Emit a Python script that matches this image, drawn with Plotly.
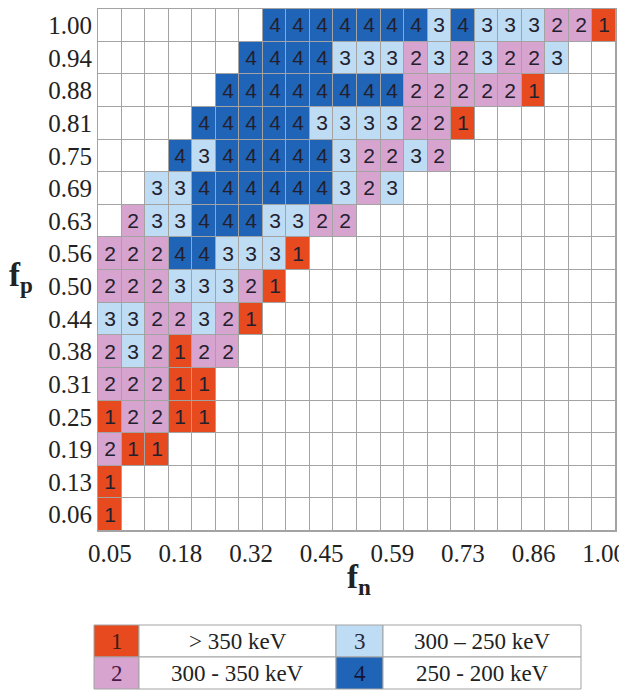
import plotly.graph_objects as go

# ---- data ----
n_cols = 22
n_rows = 16
fn_vals = [k / n_cols for k in range(1, n_cols + 1)]
fp_vals = [k / n_rows for k in range(1, n_rows + 1)]
fn_tick_labels = ["0.05", "0.18", "0.32", "0.45", "0.59", "0.73", "0.86", "1.00"]
fn_tick_index = [0, 3, 6, 9, 12, 15, 18, 21]
fp_tick_labels = ["0.06", "0.13", "0.19", "0.25", "0.31", "0.38", "0.44", "0.50",
                  "0.56", "0.63", "0.69", "0.75", "0.81", "0.88", "0.94", "1.00"]

# class per cell, rows from fp=0.06 (bottom) to fp=1.00 (top); 0 = empty
row_006 = [1]
row_013 = [1]
row_019 = [2, 1, 1]
row_025 = [1, 2, 2, 1, 1]
row_031 = [2, 2, 2, 1, 1]
row_038 = [2, 3, 2, 1, 2, 2]
row_044 = [3, 3, 2, 2, 3, 2, 1]
row_050 = [2, 2, 2, 3, 3, 3, 2, 1]
row_056 = [2, 2, 2, 4, 4, 3, 3, 3, 1]
row_063 = [0, 2, 3, 3, 4, 4, 4, 3, 3, 2, 2]
row_069 = [0, 0, 3, 3, 4, 4, 4, 4, 4, 4, 3, 2, 3]
row_075 = [0, 0, 0, 4, 3, 4, 4, 4, 4, 4, 3, 2, 2, 3, 2]
row_081 = [0, 0, 0, 0, 4, 4, 4, 4, 4, 3, 3, 3, 3, 2, 2, 1]
row_088 = [0, 0, 0, 0, 0, 4, 4, 4, 4, 4, 4, 4, 4, 2, 2, 2, 2, 2, 1]
row_094 = [0, 0, 0, 0, 0, 0, 4, 4, 4, 4, 3, 3, 3, 2, 3, 2, 3, 2, 2, 3]
row_100 = [0, 0, 0, 0, 0, 0, 0, 4, 4, 4, 4, 4, 4, 4, 3, 4, 3, 3, 3, 2, 2, 1]

rows = [row_006, row_013, row_019, row_025, row_031, row_038, row_044, row_050,
        row_056, row_063, row_069, row_075, row_081, row_088, row_094, row_100]

legend_codes = ["1", "2", "3", "4"]
legend_labels = ["> 350 keV", "300 - 350 keV", "300 \u2013 250 keV", "250 - 200 keV"]

# ---- styling ----
c_white = "#ffffff"
c1 = "#e84a20"
c2 = "#d7a3cf"
c3 = "#bedcf3"
c4 = "#2064b8"
class_colors = [c1, c2, c3, c4]
code_text_colors = ["#3a1a12", "#4a1848", "#2a2a3a", "#14143a"]
grid_col = "#a3a3a3"

OFF = 8  # page body margin
W, H = 627 - OFF, 691 - OFF


def px(x):
    return min(1.0, max(0.0, (x - OFF) / W))


def py(y):
    return min(1.0, max(0.0, 1 - (y - OFF) / H))


# ---- build ----
z = [r + [0] * (n_cols - len(r)) for r in rows]
text = [[str(v) if v else "" for v in r] for r in z]

colorscale = [[0, c_white], [0.125, c_white], [0.125, c1], [0.375, c1],
              [0.375, c2], [0.625, c2], [0.625, c3], [0.875, c3],
              [0.875, c4], [1, c4]]

fig = go.Figure()
fig.add_trace(go.Heatmap(
    x=fn_vals, y=fp_vals, z=z, text=text, texttemplate="%{text}",
    textfont=dict(family="Liberation Sans, Arial", size=21, color="#23202e"),
    colorscale=colorscale, zmin=0, zmax=4, showscale=False,
    xgap=1, ygap=1, hoverinfo="skip",
))

# legend table (shapes + annotations)
tbl_x = [94, 139, 336, 383, 581]
tbl_y = [625, 657, 689]
shapes = []
annotations = []
legend_layout = [(0, 0, 0), (1, 1, 0), (2, 0, 2), (3, 1, 2)]  # (class, row, col)
for cls, r, c in legend_layout:
    x0, x1 = tbl_x[c], tbl_x[c + 1]
    y0, y1 = tbl_y[r], tbl_y[r + 1]
    shapes.append(dict(type="rect", xref="paper", yref="paper",
                       x0=px(x0), x1=px(x1), y0=py(y1), y1=py(y0),
                       fillcolor=class_colors[cls], line=dict(color=grid_col, width=1),
                       layer="above"))
    annotations.append(dict(text=legend_codes[cls], xref="paper", yref="paper",
                            x=px((x0 + x1) / 2), y=py((y0 + y1) / 2), showarrow=False,
                            xanchor="center", yanchor="middle",
                            font=dict(family="Liberation Serif", size=23,
                                      color=code_text_colors[cls])))
    lx0, lx1 = tbl_x[c + 1], tbl_x[c + 2]
    shapes.append(dict(type="rect", xref="paper", yref="paper",
                       x0=px(lx0), x1=px(lx1), y0=py(y1), y1=py(y0),
                       fillcolor=c_white, line=dict(color=grid_col, width=1),
                       layer="above"))
    annotations.append(dict(text=legend_labels[cls], xref="paper", yref="paper",
                            x=px((lx0 + lx1) / 2), y=py((y0 + y1) / 2), showarrow=False,
                            xanchor="center", yanchor="middle",
                            font=dict(family="Liberation Serif", size=23, color="#222222")))

annotations += [
    dict(text="<b>f</b><sub><b>p</b></sub>", xref="paper", yref="paper",
         x=px(21), y=py(278), showarrow=False, xanchor="center", yanchor="middle",
         font=dict(family="Liberation Serif", size=33, color="#222222")),
    dict(text="<b>f</b><sub><b>n</b></sub>", xref="paper", yref="paper",
         x=px(359), y=py(579), showarrow=False, xanchor="center", yanchor="middle",
         font=dict(family="Liberation Serif", size=33, color="#222222")),
]

fig.update_layout(
    width=W, height=H,
    margin=dict(l=0, r=0, t=0, b=0, autoexpand=False),
    paper_bgcolor="white", plot_bgcolor=grid_col,
    shapes=shapes, annotations=annotations,
    xaxis=dict(
        domain=[px(98), px(616)], automargin=False,
        range=[0.5 / n_cols, 1 + 0.5 / n_cols],
        tickvals=[fn_vals[i] for i in fn_tick_index], ticktext=fn_tick_labels,
        showgrid=False, zeroline=False, ticks="",
        showline=True, mirror=True, linecolor=grid_col, linewidth=1,
        tickfont=dict(family="Liberation Serif", size=25, color="#222222"),
    ),
    yaxis=dict(
        domain=[py(531), py(9)], automargin=False,
        range=[0.5 / n_rows, 1 + 0.5 / n_rows],
        tickvals=fp_vals, ticktext=fp_tick_labels,
        showgrid=False, zeroline=False, ticks="",
        showline=True, mirror=True, linecolor=grid_col, linewidth=1,
        tickfont=dict(family="Liberation Serif", size=25, color="#222222"),
    ),
)

fig.write_html("out.html")
